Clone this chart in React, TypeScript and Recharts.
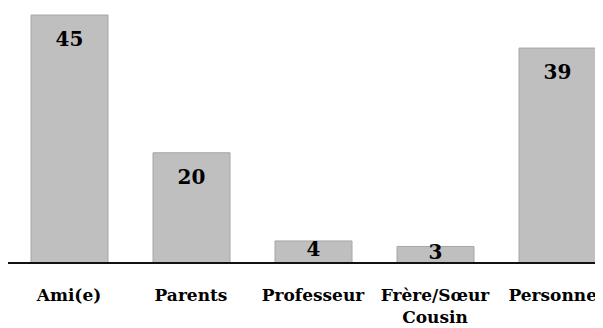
import { Bar, BarChart, XAxis, YAxis } from "recharts";

const categories = ["Ami(e)", "Parents", "Professeur", "Frère/Sœur\nCousin", "Personne"];
const counts = [45, 20, 4, 3, 39];

const data = categories.map((label, i) => ({ label, value: counts[i] }));

const FONT = "DejaVu Serif";
const VIEW_W = 595; // visible width, the plot runs past it and gets clipped
const CHART_W = 610;

function CategoryTick({ x, y, payload }: any) {
  const lines = String(payload.value).split("\n");
  const est = Math.max(...lines.map((l) => l.length)) * 17 * 0.62;
  const overflow = x + est / 2 > VIEW_W - 6;
  const tx = overflow ? VIEW_W - 6 : x;
  return (
    <text x={tx} y={y} textAnchor={overflow ? "end" : "middle"} fontFamily={FONT} fontWeight={700} fontSize={17} fill="#000">
      {lines.map((l, i) => (
        <tspan key={i} x={tx} dy={i === 0 ? 30 : 22}>
          {l}
        </tspan>
      ))}
    </text>
  );
}

function ValueLabel({ x, y, width, height, value }: any) {
  const cy = Math.min(y + 24, y + height / 2 - 3);
  return (
    <text x={x + width / 2} y={cy} dy="0.36em" textAnchor="middle" fontFamily={FONT} fontWeight={700} fontSize={20} fill="#000">
      {value}
    </text>
  );
}

export default function App() {
  return (
    <div style={{ width: VIEW_W, height: 320, overflow: "hidden" }}>
      <BarChart width={CHART_W} height={320} data={data} margin={{ top: 7, right: 0, bottom: 0, left: 0 }} barSize={77}>
        <XAxis
          dataKey="label"
          tickLine={false}
          axisLine={{ stroke: "#111", strokeWidth: 2 }}
          tick={<CategoryTick />}
          height={65}
          interval={0}
        />
        <YAxis hide domain={[0, 45]} />
        <Bar
          dataKey="value"
          fill="#bfbfbf"
          stroke="#a6a6a6"
          strokeWidth={1}
          isAnimationActive={false}
          label={<ValueLabel />}
        />
      </BarChart>
    </div>
  );
}
